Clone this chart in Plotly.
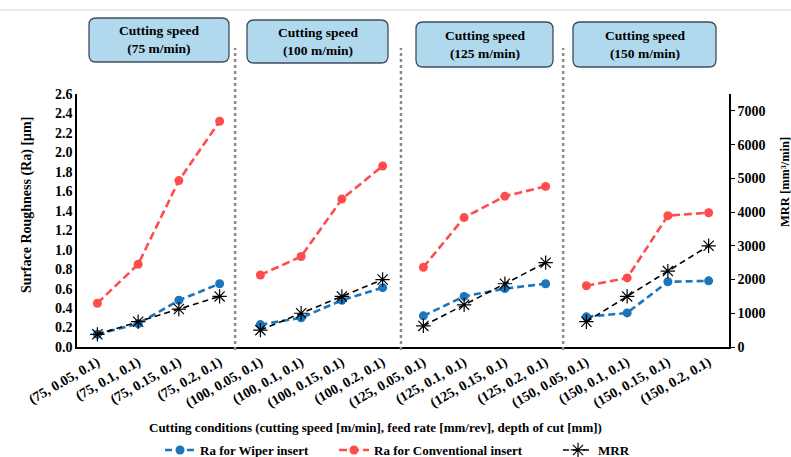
import plotly.graph_objects as go

categories = ["(75, 0.05, 0.1)", "(75, 0.1, 0.1)", "(75, 0.15, 0.1)", "(75, 0.2, 0.1)",
              "(100, 0.05, 0.1)", "(100, 0.1, 0.1)", "(100, 0.15, 0.1)", "(100, 0.2, 0.1)",
              "(125, 0.05, 0.1)", "(125, 0.1, 0.1)", "(125, 0.15, 0.1)", "(125, 0.2, 0.1)",
              "(150, 0.05, 0.1)", "(150, 0.1, 0.1)", "(150, 0.15, 0.1)", "(150, 0.2, 0.1)"]
ra_wiper = [0.13, 0.24, 0.48, 0.65, 0.23, 0.30, 0.48, 0.61, 0.32, 0.52, 0.60, 0.65, 0.31, 0.35, 0.67, 0.68]
ra_conv = [0.45, 0.85, 1.71, 2.32, 0.74, 0.93, 1.52, 1.86, 0.82, 1.33, 1.55, 1.65, 0.63, 0.71, 1.35, 1.38]
mrr = [375, 750, 1125, 1500, 500, 1000, 1500, 2000, 625, 1250, 1875, 2500, 750, 1500, 2250, 3000]
speed_labels = ["Cutting speed<br>(75 m/min)", "Cutting speed<br>(100 m/min)",
                "Cutting speed<br>(125 m/min)", "Cutting speed<br>(150 m/min)"]
y_ticks_left = [0.0, 0.2, 0.4, 0.6, 0.8, 1.0, 1.2, 1.4, 1.6, 1.8, 2.0, 2.2, 2.4, 2.6]
y_ticks_right = [0, 1000, 2000, 3000, 4000, 5000, 6000, 7000]

W, H = 791, 457
L, R, T, B = 77, 729, 94, 347
FONT = "Liberation Serif, Times New Roman, serif"
GROUP = 4

def px_x(p):
    return (p - L) / (R - L)

def px_y(p):
    return (B - p) / (B - T)

series = [
    ("Ra for Wiper insert", ra_wiper, "y", "legend",
     dict(color="#1b75bb", width=2.6, dash="7px,4px"),
     dict(color="#1b75bb", size=9, symbol="circle")),
    ("Ra for Conventional insert", ra_conv, "y", "legend2",
     dict(color="#ff4d4d", width=2.6, dash="8px,4px"),
     dict(color="#ff4d4d", size=9, symbol="circle")),
    ("MRR", mrr, "y2", "legend3",
     dict(color="black", width=1.6, dash="6px,4px"),
     dict(color="black", size=12, symbol="asterisk-open", line=dict(color="black", width=1.2))),
]

fig = go.Figure()
for name, vals, yax, leg, ln, mk in series:
    for g in range(len(categories) // GROUP):
        sl = slice(g * GROUP, (g + 1) * GROUP)
        fig.add_trace(go.Scatter(
            x=categories[sl], y=vals[sl], name=name, mode="lines+markers", yaxis=yax,
            legend=leg, legendgroup=name, showlegend=(g == 0), line=ln, marker=mk))

shapes = []
shapes.append(dict(type="line", xref="paper", yref="paper",
                   x0=px_x(0), x1=px_x(W), y0=px_y(10), y1=px_y(10),
                   line=dict(color="#e4e4e4", width=1.5)))
for xs in [3.38, 7.45, 11.43]:
    shapes.append(dict(type="line", xref="x", yref="paper", x0=xs, x1=xs,
                       y0=px_y(350), y1=px_y(48),
                       line=dict(color="#8c8c8c", width=2.5, dash="dot")))

boxes = [(89, 229, 18, 62), (247, 388, 20, 63), (416, 553, 22, 67), (573, 716, 22, 67)]

def rounded(x0, x1, y0, y1, r=7):
    rx = r / (R - L)
    ry = r / (B - T)
    X0, X1 = px_x(x0), px_x(x1)
    Yt, Yb = px_y(y0), px_y(y1)
    return (f"M {X0+rx},{Yt} L {X1-rx},{Yt} Q {X1},{Yt} {X1},{Yt-ry} "
            f"L {X1},{Yb+ry} Q {X1},{Yb} {X1-rx},{Yb} L {X0+rx},{Yb} "
            f"Q {X0},{Yb} {X0},{Yb+ry} L {X0},{Yt-ry} Q {X0},{Yt} {X0+rx},{Yt} Z")

annotations = []
for (x0, x1, y0, y1), lab in zip(boxes, speed_labels):
    shapes.append(dict(type="path", xref="paper", yref="paper", path=rounded(x0, x1, y0, y1),
                       fillcolor="#b0d9ee", line=dict(color="#3e4c5c", width=1.3)))
    annotations.append(dict(xref="paper", yref="paper", x=px_x((x0 + x1) / 2), y=px_y((y0 + y1) / 2),
                            text=lab, showarrow=False, xanchor="center", yanchor="middle",
                            font=dict(family=FONT, size=13.5, color="black", weight="bold")))

annotations.append(dict(xref="paper", yref="paper", x=px_x(27), y=px_y(205),
                        text="Surface Roughness (Ra) [μm]", textangle=-90, showarrow=False,
                        xanchor="center", yanchor="middle",
                        font=dict(family=FONT, size=14, color="black", weight="bold")))
annotations.append(dict(xref="paper", yref="paper", x=px_x(785), y=px_y(182),
                        text="MRR [mm³/min]", textangle=-90, showarrow=False,
                        xanchor="center", yanchor="middle",
                        font=dict(family=FONT, size=12.5, color="black", weight="bold")))
annotations.append(dict(xref="paper", yref="paper", x=px_x(375), y=px_y(427),
                        text="Cutting conditions (cutting speed [m/min], feed rate [mm/rev], depth of cut [mm])",
                        showarrow=False, xanchor="center", yanchor="middle",
                        font=dict(family=FONT, size=13, color="black", weight="bold")))

tickfont = dict(family=FONT, size=14, color="black", weight="bold")
legfont = dict(family=FONT, size=13, color="black", weight="bold")

def legend_at(xpx):
    return dict(orientation="h", xref="paper", yref="paper", x=px_x(xpx), y=px_y(450),
                xanchor="left", yanchor="middle", font=legfont,
                bgcolor="rgba(0,0,0,0)", itemwidth=30)

fig.update_layout(
    width=W, height=H,
    margin=dict(l=L, r=W - R, t=T, b=H - B, autoexpand=False),
    paper_bgcolor="white", plot_bgcolor="white",
    showlegend=True,
    legend=legend_at(160), legend2=legend_at(334), legend3=legend_at(558),
    xaxis=dict(type="category", categoryorder="array", categoryarray=categories,
               range=[-0.5, 15.5], tickangle=-30, tickfont=tickfont,
               showline=True, linecolor="black", linewidth=1.5, showgrid=False,
               ticks="", zeroline=False),
    yaxis=dict(range=[0, 2.6], tickvals=y_ticks_left, tickformat=".1f", tickfont=tickfont,
               showline=True, linecolor="black", linewidth=1.5, showgrid=False,
               ticks="", zeroline=False),
    yaxis2=dict(range=[0, 7500], tickvals=y_ticks_right, overlaying="y", side="right",
                tickfont=tickfont, showline=True, linecolor="black", linewidth=1.5,
                showgrid=False, ticks="outside", ticklen=4, tickcolor="black",
                zeroline=False),
    shapes=shapes, annotations=annotations,
)
fig.write_html("out.html", config={"displayModeBar": False})

with open("out.html", "r", encoding="utf-8") as f:
    html = f.read()
html = html.replace("<body>", '<body style="margin:0;padding:0;overflow:hidden">', 1)
with open("out.html", "w", encoding="utf-8") as f:
    f.write(html)
